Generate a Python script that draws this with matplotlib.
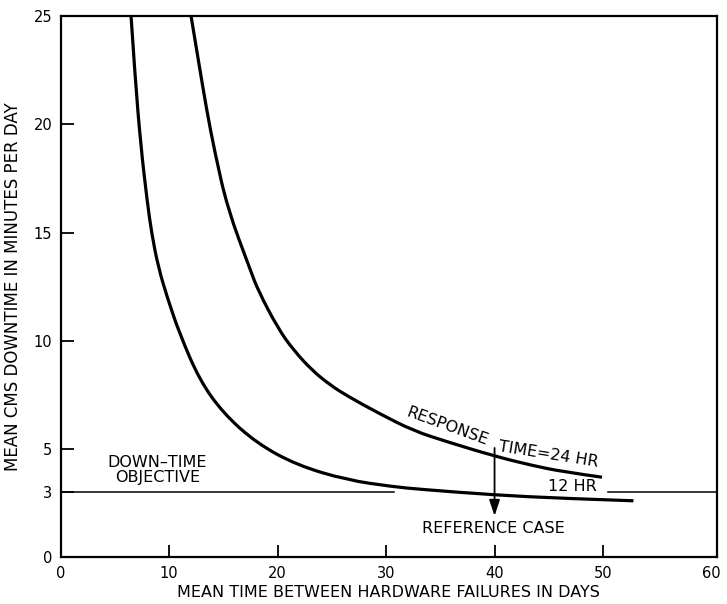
import matplotlib
matplotlib.use("Agg")
import matplotlib.pyplot as plt
from matplotlib.path import Path
from matplotlib.patches import PathPatch

plt.rcParams['font.family'] = ['DejaVu Sans']

# Curve data
x_12hr = [6.5, 6.87, 7.4, 8.0, 8.4, 9.0, 9.9, 11.0, 12.8, 15.0, 18.08, 21.77, 26.38, 30.67, 33.13, 39.95, 46.3, 52.8]
y_12hr = [25.0, 22.2, 19.0, 16.4, 14.97, 13.42, 11.9, 10.3, 8.2, 6.65, 5.27, 4.26, 3.57, 3.26, 3.14, 2.88, 2.72, 2.61]

x_24hr = [12.03, 12.7, 13.47, 14.24, 15.4, 17.47, 18.23, 20.07, 21.46, 23.15, 24.84, 26.53, 29.45, 32.5, 35.6, 39.95, 43.3, 46.3, 49.9]
y_24hr = [25.0, 22.97, 20.66, 18.66, 16.1, 13.3, 12.3, 10.55, 9.58, 8.65, 7.96, 7.42, 6.62, 5.85, 5.34, 4.68, 4.26, 3.95, 3.7]

objective = 3.0
objective_segments = [(0.0, 30.7), (50.5, 60.5)]
reference_case_x = 40.0
arrow_from_y = 5.05
arrow_to_y = 1.91

x_ticks = [0, 10, 20, 30, 40, 50, 60]
y_ticks = [0, 3, 5, 10, 15, 20, 25]


def smooth_path(xs, ys):
    """Quadratic B-spline style path: the read points act as control points."""
    pts = list(zip(xs, ys))
    verts = [pts[0]]
    codes = [Path.MOVETO]
    for i in range(1, len(pts) - 1):
        if i < len(pts) - 2:
            end = ((pts[i][0] + pts[i + 1][0]) / 2, (pts[i][1] + pts[i + 1][1]) / 2)
        else:
            end = pts[i + 1]
        verts += [pts[i], end]
        codes += [Path.CURVE3, Path.CURVE3]
    return Path(verts, codes)


fig = plt.figure(figsize=(7.27, 6.04), dpi=100)
ax = fig.add_axes([60.5 / 727, 46.7 / 604, (717 - 60.5) / 727, (557.3 - 16) / 604])

for xs, ys in [(x_12hr, y_12hr), (x_24hr, y_24hr)]:
    patch = PathPatch(smooth_path(xs, ys), facecolor='none', edgecolor='black',
                      lw=2.3, capstyle='butt', joinstyle='round')
    ax.add_patch(patch)

for x0, x1 in objective_segments:
    ax.plot([x0, x1], [objective, objective], color='black', lw=1.1)

ax.annotate('', xy=(reference_case_x, arrow_to_y), xytext=(reference_case_x, arrow_from_y),
            arrowprops=dict(arrowstyle='-|>,head_length=0.6,head_width=0.2', color='black',
                            lw=1.3, mutation_scale=16, shrinkA=0, shrinkB=0))

fs = 11.5
ax.text(35.6, 6.03, 'RESPONSE', rotation=-20, ha='center', va='center',
        fontsize=fs, rotation_mode='anchor')
ax.text(44.96, 4.73, 'TIME=24 HR', rotation=-9, ha='center', va='center',
        fontsize=fs, rotation_mode='anchor')
ax.text(47.2, 3.25, '12 HR', ha='center', va='center', fontsize=fs)
ax.text(39.86, 1.31, 'REFERENCE CASE', ha='center', va='center', fontsize=fs)
ax.text(8.94, 4.03, 'DOWN\u2013TIME\nOBJECTIVE', ha='center', va='center',
        fontsize=fs, linespacing=0.95)

ax.set_xlim(0, 60.5)
ax.set_ylim(0, 25)
ax.set_xticks(x_ticks)
ax.set_yticks(y_ticks)
ax.tick_params(direction='in', length=9, width=1.3, labelsize=10.5, pad=6,
               top=False, right=False)
ax.xaxis.get_major_ticks()[-1].tick1line.set_visible(False)
for s in ax.spines.values():
    s.set_linewidth(1.6)

ax.set_xlabel('MEAN TIME BETWEEN HARDWARE FAILURES IN DAYS', fontsize=11.5, labelpad=3)
ax.set_ylabel('MEAN CMS DOWNTIME IN MINUTES PER DAY', fontsize=12, labelpad=8)

fig.savefig('out.png', dpi=100)
